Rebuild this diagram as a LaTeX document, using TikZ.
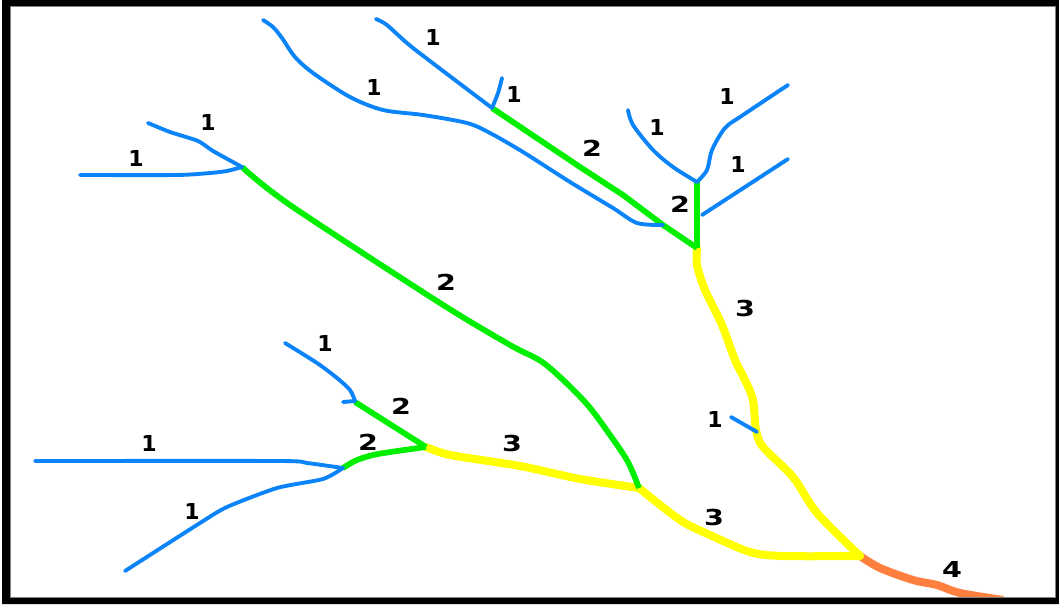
\documentclass[tikz,border=0pt]{standalone}
\usepackage{fontspec}
\setmainfont{DejaVu Sans}
\tikzset{
  px/.style={x=0.75pt,y=-0.75pt},
  river/.style={line join=round,line cap=round},
  order1/.style={river,draw=streamblue,line width=2.9pt},
  order2/.style={river,draw=streamgreen,line width=4.3pt,line cap=butt},
  order3/.style={river,draw=streamyellow,line width=6pt},
  order4/.style={river,draw=streamorange,line width=6pt,line cap=butt},
  digit/.style={inner sep=0pt,text=black,font=\fontsize{16.5}{16.5}\selectfont\bfseries},
  widedigit/.style={digit,xscale=1.3,transform shape}
}
\definecolor{streamblue}{HTML}{0A84F8}
\definecolor{streamgreen}{HTML}{00EE00}
\definecolor{streamyellow}{HTML}{FFFF00}
\definecolor{streamorange}{HTML}{FF7F3F}
\begin{document}
\begin{tikzpicture}[px]
\useasboundingbox (0,0) rectangle (1059,606);
\fill[white] (0,0) rectangle (1059,606);
% junctions
\coordinate (jA) at (242,167);
\coordinate (jB) at (492,108);
\coordinate (jC) at (663,225);
\coordinate (jD) at (697,182);
\coordinate (jE) at (702,215);
\coordinate (jF) at (697,248);
\coordinate (jG) at (757,432);
\coordinate (jH) at (860,556);
\coordinate (jI) at (639,488);
\coordinate (jJ) at (426,447);
\coordinate (jK) at (355,402);
\coordinate (jL) at (343,468);
\coordinate (sA) at (148,123);
\coordinate (sB) at (80,175);
\coordinate (sC) at (263,20);
\coordinate (sD) at (376,19);
\coordinate (sE) at (502,78);
\coordinate (sH) at (628,110);
\coordinate (sI) at (788,85);
\coordinate (sJ) at (788,159);
\coordinate (sN) at (731,417);
\coordinate (sP) at (285,343);
\coordinate (sP2) at (343,402);
\coordinate (sS) at (35,461);
\coordinate (sT) at (125,571);
\coordinate (sO) at (1003,600);
% order 4
\draw[order4] plot[smooth,tension=.5] coordinates {(jH) (880,568) (913,580) (937,585) (960,593) (sO)};
% order 3
\draw[order3] plot[smooth,tension=.5] coordinates {(jF) (697,265) (705,290) (722,325) (735,360) (745,380) (753,400) (756,430) (763,447) (793,477) (817,513) (jH)};
\draw[order3] plot[smooth,tension=.4] coordinates {(jJ) (450,455) (520,466) (580,479) (jI)};
\draw[order3] plot[smooth,tension=.5] coordinates {(jI) (680,520) (710,535) (750,552) (783,556) (jH)};
% order 2
\draw[order2] plot[smooth,tension=.5] coordinates {(jA) (290,205) (440,303) (510,345) (545,364) (585,402) (610,435) (628,462) (jI)};
\draw[order2] (jB) -- (580,167) -- (623,195) -- (jC) -- (jF);
\draw[order2] (jD) -- (jF);
\draw[order2] (jK) -- (jJ);
\draw[order2] plot[smooth,tension=.5] coordinates {(jJ) (378,454) (357,460) (jL)};
% order 1
\draw[order1] plot[smooth,tension=.4] coordinates {(sA) (170,132) (198,141) (213,151) (jA)};
\draw[order1] plot[smooth,tension=.4] coordinates {(sB) (177,175) (210,173) (227,171) (jA)};
\draw[order1] plot[smooth,tension=.5] coordinates {(sC) (273,27) (282,38) (295,57) (313,73) (350,97) (383,110) (423,115) (467,123) (490,133) (523,152) (570,182) (613,208) (637,223) (jC)};
\draw[order1] plot[smooth,tension=.4] coordinates {(sD) (387,25) (413,48) (jB)};
\draw[order1] plot[smooth,tension=.6] coordinates {(sE) (498,93) (jB)};
\draw[order1] plot[smooth,tension=.5] coordinates {(sH) (633,125) (653,150) (673,167) (jD)};
\draw[order1] plot[smooth,tension=.5] coordinates {(sI) (743,115) (725,128) (712,150) (707,170) (jD)};
\draw[order1] (sJ) -- (jE);
\draw[order1] (sN) -- (jG);
\draw[order1] plot[smooth,tension=.5] coordinates {(sP) (317,363) (337,378) (350,390) (355,401)};
\draw[order1] (355,401) -- (sP2);
\draw[order1] plot[smooth,tension=.4] coordinates {(sS) (280,461) (307,463) (jL)};
\draw[order1] plot[smooth,tension=.4] coordinates {(jL) (323,479) (277,488) (227,507) (200,523) (sT)};
% labels
\node[digit] (a1) at (433,37) {1};
\node[digit] (a2) at (374,87) {1};
\node[digit] (a3) at (514,94) {1};
\node[digit] (a4) at (727,96) {1};
\node[digit] (a5) at (657,127) {1};
\node[digit] (a6) at (738,164) {1};
\node[digit] (a7) at (208,122) {1};
\node[digit] (a8) at (136,158) {1};
\node[digit] (a9) at (325,343) {1};
\node[digit] (a10) at (149,443) {1};
\node[digit] (a11) at (192,511) {1};
\node[digit] (a12) at (715,419) {1};
\node[widedigit] (b1) at (592,148) {2};
\node[widedigit] (b2) at (680,204) {2};
\node[widedigit] (b3) at (446,282) {2};
\node[widedigit] (b4) at (401,406) {2};
\node[widedigit] (b5) at (368,442) {2};
\node[widedigit] (c1) at (745,308) {3};
\node[widedigit] (c2) at (512,443) {3};
\node[widedigit] (c3) at (714,517) {3};
\node[widedigit] (d1) at (952,569) {4};
% frame
\fill[black,even odd rule] (2,0) rectangle (1059,604) (10,6) rectangle (1055,597);
\draw[gray,line width=0.6pt] (10,6) rectangle (1055,597);
\end{tikzpicture}
\end{document}
